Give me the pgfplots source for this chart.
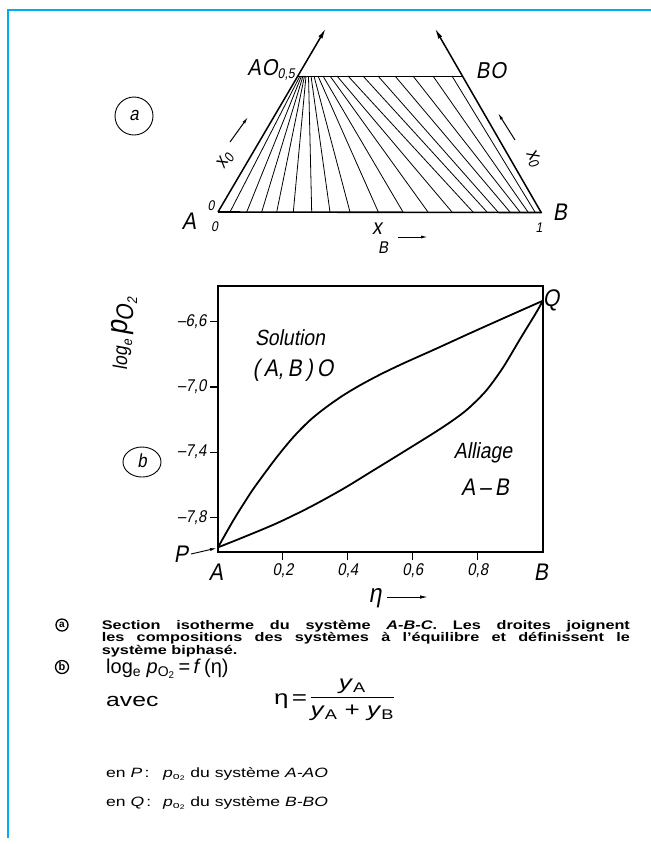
\documentclass[border=0pt]{standalone}
\usepackage{fontspec}
\setmainfont{Liberation Sans}
\newfontfamily\tech{Liberation Sans}[FakeSlant=0.18, FakeStretch=0.88]
\newfontfamily\capfont{Liberation Sans}[FakeStretch=1.3]
\usepackage{pgfplots}
\usepackage{pgfplotstable}
\pgfplotsset{compat=1.18}
\usetikzlibrary{arrows.meta}

\newcommand\fs[1]{\fontsize{#1}{#1}\selectfont}

% tie lines of the two-phase field: bottom end on A-B, top end on AO-BO
\pgfplotstableread{
x y
230 212
300 76
nan nan
246.7 212
301.5 76
nan nan
261.7 212
303 76
nan nan
276.7 212
304.5 76
nan nan
293.3 212
306 76
nan nan
311.7 212
308.5 76
nan nan
330 212
311 76
nan nan
350 212
314 76
nan nan
378.3 212
318 76
nan nan
403 212
323 76
nan nan
428 212
330 76
nan nan
452 212
337 76
nan nan
473 212
348 76
nan nan
487 212
363 76
nan nan
498 212
378 76
nan nan
510 212
395 76
nan nan
520 212
413 76
nan nan
528 212
433 76
nan nan
535 212
452 76
}\tielines

% log_e p_O2 versus eta: boundary of the oxide solution
\pgfplotstableread{
eta lnp
0     -7.985
0.05  -7.810
0.10  -7.652
0.129 -7.570
0.181 -7.431
0.232 -7.308
0.283 -7.205
0.334 -7.123
0.386 -7.051
0.437 -6.990
0.498 -6.925
0.570 -6.856
0.673 -6.764
0.775 -6.671
0.878 -6.579
1.0   -6.471
}\solution

% boundary of the A-B alloy
\pgfplotstableread{
eta lnp
0     -7.985
0.078 -7.923
0.181 -7.837
0.283 -7.738
0.386 -7.625
0.468 -7.525
0.570 -7.400
0.673 -7.272
0.734 -7.190
0.775 -7.125
0.827 -7.020
0.878 -6.880
0.929 -6.710
0.981 -6.540
1.0   -6.471
}\alliage

\begin{document}
\begin{tikzpicture}
\path[use as bounding box] (0pt,0pt) rectangle (651pt,-844pt);

% page frame, panel (a) and all lettering
\begin{axis}[
  at={(0pt,0pt)}, anchor=north west,
  scale only axis, width=651pt, height=844pt,
  xmin=0, xmax=651, ymin=0, ymax=844, y dir=reverse,
  hide axis, clip=false,
  unbounded coords=jump,
]
\addplot[color=cyan, line width=1.5pt] coordinates {(8,838) (8,10) (651,10)};

% ternary section (a)
\addplot[line width=0.8pt] table[x=x, y=y] {\tielines};
\addplot[line width=1.6pt] coordinates {(218,212) (541.5,212.5)};
\addplot[line width=0.9pt] coordinates {(298,76) (462,76)};
\addplot[line width=1.5pt, -{Latex[length=11pt,width=4.5pt]}] coordinates {(218,212) (326,28)};
\addplot[line width=1.5pt, -{Latex[length=11pt,width=4.5pt]}] coordinates {(541.5,213) (434.7,28)};
\addplot[line width=1pt, -{Latex[length=7pt,width=3pt]}] coordinates {(230,142) (248,117)};
\addplot[line width=1pt, -{Latex[length=7pt,width=3pt]}] coordinates {(515,140) (498,113)};
\addplot[line width=1pt, -{Latex[length=7pt,width=3pt]}] coordinates {(398,237) (428,237)};

\node[anchor=east, font=\tech\fs{23}, inner sep=0] at (axis cs:295,70) {A\kern1ptO\raisebox{-3pt}{\fs{14}0,5}};
\node[font=\tech\fs{23}] at (axis cs:491,71) {B\kern1ptO};
\draw[line width=0.9pt] (axis cs:134,116) circle[radius=19pt];
\node[font=\tech\fs{19}] at (axis cs:134,115) {a};
\node[font=\tech\fs{24}] at (axis cs:189,221) {A};
\node[font=\tech\fs{14}] at (axis cs:211,206) {0};
\node[font=\tech\fs{14}] at (axis cs:214.5,227) {0};
\node[font=\tech\fs{14}] at (axis cs:539,228) {1};
\node[font=\tech\fs{24}] at (axis cs:560,212) {B};
\node[font=\tech\fs{22}] at (axis cs:377,229) {x};
\node[font=\tech\fs{17}] at (axis cs:383,248) {B};
\node[font=\tech\fs{20}, rotate=59.5] at (axis cs:225,161) {x\raisebox{-3pt}{\fs{14}0}};
\node[font=\tech\fs{20}, rotate=-60] at (axis cs:533,158) {x\raisebox{-3pt}{\fs{14}0}};

% lettering of the diagram (b)
\node[font=\tech\fs{22}] at (axis cs:290,338) {Solution};
\node[font=\tech\fs{24}] at (axis cs:293,370) {(\,A,\,B\,)\,O};
\node[font=\tech\fs{22}] at (axis cs:483,453) {Alliage};
\node[font=\tech\fs{24}] at (axis cs:485,487) {A\,–\,B};
\node[font=\tech\fs{24}] at (axis cs:551,300) {Q};
\node[font=\tech\fs{24}] at (axis cs:181,554) {P};
\node[font=\tech\fs{24}] at (axis cs:216,572) {A};
\node[font=\tech\fs{24}] at (axis cs:541,572) {B};
\node[font=\tech\fs{26}] at (axis cs:375,598) {η};
\addplot[line width=1pt, -{Latex[length=8pt,width=3.5pt]}] coordinates {(387,597) (428,597)};
\addplot[line width=0.9pt, -{Latex[length=7pt,width=3pt]}] coordinates {(191,554) (217,548)};
\node[rotate=90, font=\tech, anchor=center] at (axis cs:124,334)
  {\fs{20}log\raisebox{-5pt}{\fs{14}e}\hspace{4pt}\fs{30}p\raisebox{-6pt}{\fs{24}O\raisebox{-4pt}{\fs{14}2}}};
\draw[line width=0.9pt] (axis cs:142,462) ellipse[x radius=19pt, y radius=15pt];
\node[font=\tech\fs{19}] at (axis cs:142,461) {b};

% caption
\draw[line width=1.3pt] (axis cs:62,625) circle[radius=6pt];
\node[font=\bfseries\fs{10}] at (axis cs:62,624.5) {a};
\node[anchor=base west, text width=528pt, align=justify, inner sep=0,
      font=\capfont\bfseries\fontsize{12.5}{11}\selectfont] at (axis cs:101.7,629)
  {Section isotherme du système \textit{A-B-C}. Les droites joignent\linebreak
   les compositions des systèmes à l’équilibre et définissent le\linebreak
   système biphasé.};
\draw[line width=1.3pt] (axis cs:62,667) circle[radius=6.5pt];
\node[font=\bfseries\fs{11}] at (axis cs:62,666.5) {b};
\node[anchor=base west, inner sep=0, font=\fs{20}] at (axis cs:106,673)
  {log\textsubscript{e} \textit{p}\textsubscript{O\textsubscript{2}}\,=\,\textit{f}\,(η)};
\node[anchor=base west, inner sep=0, font=\capfont\fs{19}] at (axis cs:106,706) {avec};
\node[anchor=west, inner sep=0, font=\capfont\fs{20}] at (axis cs:274,699)
  {η\,=\,\begin{tabular}{@{}c@{}}\textit{y}\textsubscript{A}\\[1pt]\hline
   \rule{0pt}{19pt}\textit{y}\textsubscript{A} + \textit{y}\textsubscript{B}\end{tabular}};
\node[anchor=base west, inner sep=0, font=\capfont\fs{13.5}] at (axis cs:106,777) {en \textit{P}\,:};
\node[anchor=base west, inner sep=0, font=\capfont\fs{13.5}] at (axis cs:163,777)
  {\textit{p}\textsubscript{o\textsubscript{2}} du système \textit{A-AO}};
\node[anchor=base west, inner sep=0, font=\capfont\fs{13.5}] at (axis cs:106,806) {en \textit{Q}\,:};
\node[anchor=base west, inner sep=0, font=\capfont\fs{13.5}] at (axis cs:163,806)
  {\textit{p}\textsubscript{o\textsubscript{2}} du système \textit{B-BO}};
\end{axis}

% diagram (b): log_e p_O2 = f(eta)
\begin{axis}[
  at={(218pt,-551.7pt)}, anchor=south west,
  scale only axis, width=324.7pt, height=265.7pt,
  xmin=0, xmax=1, ymin=-8.0117, ymax=-6.38,
  axis line style={line width=1.6pt},
  xtick={0.2,0.4,0.6,0.8}, xticklabels={{0,2},{0,4},{0,6},{0,8}},
  ytick={-7.8,-7.4,-7.0,-6.6}, yticklabels={{–7,8},{–7,4},{–7,0},{–6,6}},
  xtick pos=bottom, ytick pos=left, tick align=outside,
  major tick length=8pt, major tick style={line width=1.1pt, black},
  tick label style={font=\tech\fs{17}},
  clip=false,
]
\addplot[line width=1.8pt, smooth, tension=0.5] table[x=eta, y=lnp] {\solution};
\addplot[line width=1.8pt, smooth, tension=0.5] table[x=eta, y=lnp] {\alliage};
\end{axis}
\end{tikzpicture}
\end{document}
